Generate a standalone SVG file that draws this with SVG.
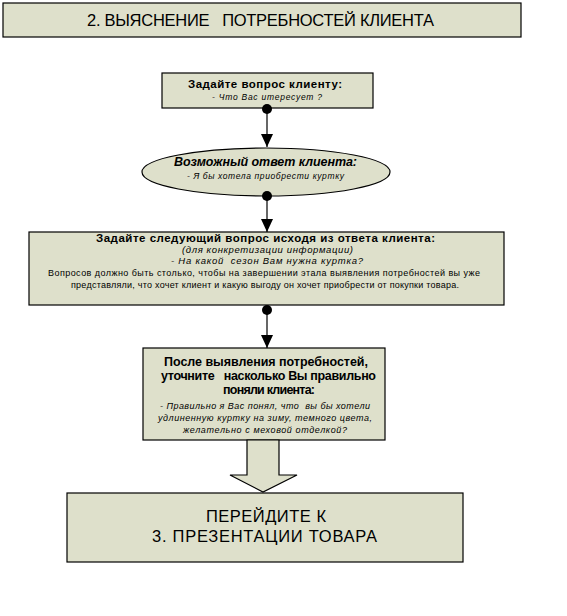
<svg xmlns="http://www.w3.org/2000/svg" width="567" height="616" viewBox="0 0 567 616">
<defs>
<style>
.box{fill:#DEE0CB;stroke:#000;stroke-width:1.2}
.t{font-family:"Liberation Sans",Arial,sans-serif;fill:#000;text-anchor:middle}
.big{font-size:16.5px}
.b{font-weight:bold}
.i{font-style:italic}
.con{stroke:#000;stroke-width:1.2;fill:none;marker-start:url(#dot);marker-end:url(#tri)}
</style>
<marker id="dot" viewBox="0 0 10 10" refX="5" refY="5" markerWidth="10" markerHeight="10" markerUnits="userSpaceOnUse">
<circle cx="5" cy="5" r="5" fill="#000"/>
</marker>
<marker id="tri" viewBox="0 0 13 12" refX="13" refY="6" markerWidth="13" markerHeight="12" markerUnits="userSpaceOnUse" orient="auto">
<path d="M0,0 L13,6 L0,12 Z" fill="#000"/>
</marker>
</defs>
<rect width="567" height="616" fill="#fff"/>

<g id="header">
<rect class="box" x="3" y="3" width="518" height="34"/>
<text class="t big" x="260.5" y="26" textLength="347" xml:space="preserve">2. ВЫЯСНЕНИЕ   ПОТРЕБНОСТЕЙ КЛИЕНТА</text>
</g>

<g id="q1">
<rect class="box" x="162" y="73" width="211" height="35"/>
<text class="t b" x="265" y="88" font-size="11.5" textLength="154">Задайте вопрос клиенту:</text>
<text class="t i" x="267" y="100" font-size="8.5" textLength="110">- Что Вас итересует ?</text>
</g>

<g id="answer">
<ellipse class="box" cx="266" cy="172" rx="124" ry="24"/>
<text class="t b i" x="265.5" y="166" font-size="12.5" textLength="183">Возможный ответ клиента:</text>
<text class="t i" x="265.5" y="179" font-size="8.5" textLength="157">- Я бы хотела приобрести куртку</text>
</g>

<g id="q2">
<rect class="box" x="29" y="232" width="475" height="73"/>
<text class="t b" x="265.5" y="242" font-size="11.5" textLength="339">Задайте следующий вопрос исходя из ответа клиента:</text>
<text class="t i" x="267.5" y="253" font-size="9.5" textLength="171">(для конкретизации информации)</text>
<text class="t i" x="267" y="264" font-size="9.5" textLength="192" xml:space="preserve">- На какой  сезон Вам нужна куртка?</text>
<text class="t" x="264" y="276" font-size="9" textLength="432">Вопросов должно быть столько, чтобы на завершении этала выявления потребностей вы уже</text>
<text class="t" x="265" y="288" font-size="9" textLength="388">представляли, что хочет клиент и какую выгоду он хочет приобрести от покупки товара.</text>
</g>

<g id="q3">
<rect class="box" x="143" y="348" width="242" height="92"/>
<text class="t b" x="266" y="366" font-size="12.5" textLength="204">После выявления потребностей,</text>
<text class="t b" x="268.5" y="380" font-size="12.5" textLength="215" xml:space="preserve">уточните   насколько Вы правильно</text>
<text class="t b" x="269" y="394" font-size="12.5" textLength="92">поняли клиента:</text>
<text class="t i" x="265" y="409" font-size="9" textLength="210" xml:space="preserve">- Правильно я Вас понял, что  вы бы хотели</text>
<text class="t i" x="265" y="421" font-size="9" textLength="214">удлиненную куртку на зиму, темного цвета,</text>
<text class="t i" x="265" y="433" font-size="9" textLength="164">желательно с меховой отделкой?</text>
</g>

<g id="next">
<rect class="box" x="67" y="493" width="396" height="69"/>
<text class="t big" x="266" y="522" font-size="17.5" textLength="120">ПЕРЕЙДИТЕ К</text>
<text class="t big" x="264.5" y="542" font-size="17.5" textLength="225">3. ПРЕЗЕНТАЦИИ ТОВАРА</text>
</g>

<g id="connectors">
<line class="con" x1="267" y1="109" x2="267" y2="147"/>
<line class="con" x1="267" y1="196" x2="267" y2="232"/>
<line class="con" x1="267" y1="310" x2="267" y2="348"/>
<polygon class="box" points="247,440 279,440 279,475 297,475 263,492 230,475 247,475"/>
</g>
</svg>
